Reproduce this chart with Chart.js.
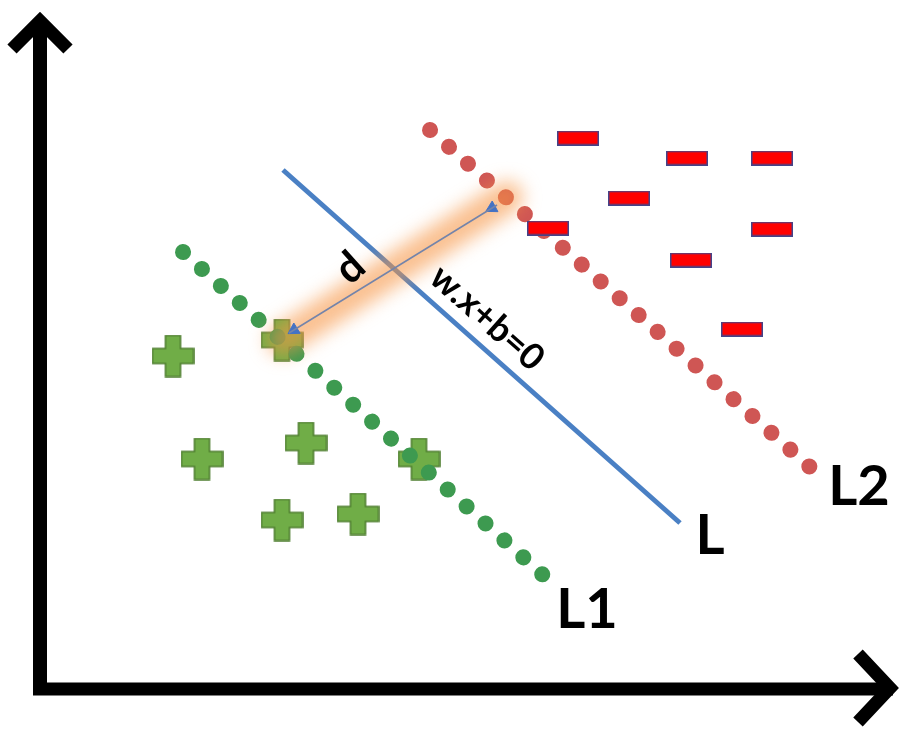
<!DOCTYPE html>
<html>
<head>
<meta charset="utf-8">
<title>SVM margin</title>
<script src="https://cdn.jsdelivr.net/npm/chart.js@4.4.1/dist/chart.umd.min.js"></script>
<style>
  html, body { margin: 0; padding: 0; background: #fff; }
  canvas { display: block; }
</style>
</head>
<body>
<canvas id="myChart" width="905" height="744"></canvas>
<script>
// class +1 samples (green pluses)
const plusX = [133, 162, 242, 266, 242, 318, 379];
const plusY = [333, 230, 349, 246, 169, 175, 230];

// class -1 samples (red minuses)
const minusX = [538, 647, 732, 589, 508, 732, 651, 702];
const minusY = [551, 531, 531, 491, 461, 460, 429, 360];

// lines: L1 (support, green), L (decision boundary), L2 (support, red)
const lineL1X = [143, 503];
const lineL1Y = [437, 114];
const lineLX = [243, 640];
const lineLY = [519, 166];
const lineL2X = [390, 770];
const lineL2Y = [559, 222];

// margin arrow d
const marginX = [249, 457];
const marginY = [356, 484];

// axes
const axisX = [-7, 853];
const axisY = [-6, 669];

const pts = (xs, ys) => xs.map((v, i) => ({ x: v, y: ys[i] }));

function makePlus(size, arm, fill, stroke) {
    const c = document.createElement('canvas');
    c.width = size; c.height = size;
    const g = c.getContext('2d');
    const a = (size - arm) / 2, b = a + arm, e = size - 1, s = 1;
    g.beginPath();
    g.moveTo(a, s); g.lineTo(b, s); g.lineTo(b, a); g.lineTo(e, a);
    g.lineTo(e, b); g.lineTo(b, b); g.lineTo(b, e); g.lineTo(a, e);
    g.lineTo(a, b); g.lineTo(s, b); g.lineTo(s, a); g.lineTo(a, a);
    g.closePath();
    g.fillStyle = fill; g.fill();
    g.lineWidth = 1.6; g.strokeStyle = stroke; g.stroke();
    return c;
}

function makeBar(w, h, fill, stroke) {
    const c = document.createElement('canvas');
    c.width = w; c.height = h;
    const g = c.getContext('2d');
    g.fillStyle = fill;
    g.fillRect(0, 0, w, h);
    g.lineWidth = 1.5; g.strokeStyle = stroke;
    g.strokeRect(0.75, 0.75, w - 1.5, h - 1.5);
    return c;
}

const plusImg = makePlus(43, 15, '#70ad47', '#4f7f30');
const minusImg = makeBar(42, 15, '#ff0000', '#44448a');

// arrowhead directions
const ang = Math.atan2(-(marginY[1] - marginY[0]), marginX[1] - marginX[0]) * 180 / Math.PI;

const annotations = [
    { text: 'L', x: 670, y: 153, font: 'bold 56px Lato', rot: 0 },
    { text: 'L1', x: 547, y: 79, font: 'bold 56px Lato', rot: 0 },
    { text: 'L2', x: 819, y: 202, font: 'bold 56px Lato', rot: 0 },
    { text: 'd', x: 310, y: 421, font: 'bold 42px Lato', rot: -42 },
    { text: 'w.x+b=0', x: 447, y: 371, font: 'bold 36px Lato', rot: 41.6 }
];

const textPlugin = {
    id: 'textPlugin',
    beforeDatasetDraw(chart, args) {
        if (chart.data.datasets[args.index].glow) {
            chart.ctx.save();
            chart.ctx.filter = 'blur(9px)';
        }
    },
    afterDatasetDraw(chart, args) {
        if (chart.data.datasets[args.index].glow) chart.ctx.restore();
    },
    afterDatasetsDraw(chart) {
        const { ctx, scales: { x, y } } = chart;
        ctx.save();
        ctx.fillStyle = '#000';
        ctx.textAlign = 'center';
        ctx.textBaseline = 'middle';
        annotations.forEach(a => {
            ctx.save();
            ctx.translate(x.getPixelForValue(a.x), y.getPixelForValue(a.y));
            ctx.rotate(a.rot * Math.PI / 180);
            ctx.font = a.font;
            ctx.fillText(a.text, 0, 0);
            ctx.restore();
        });
        ctx.restore();
    }
};

const lineSet = (data, color, width, order, extra) => Object.assign({
    data, showLine: true, borderColor: color, borderWidth: width,
    pointRadius: 0, fill: false, order, tension: 0
}, extra || {});

const ctx = document.getElementById('myChart');
new Chart(ctx, {
    type: 'scatter',
    data: {
        datasets: [
            // axes with arrow heads
            lineSet(pts([0, 0], axisY), '#000', 14, 1, { borderCapStyle: 'butt' }),
            lineSet(pts(axisX, [0, 0]), '#000', 13, 1, { borderCapStyle: 'butt' }),
            lineSet(pts([-28, 0, 28], [640, 668, 640]), '#000', 13, 1, { borderJoinStyle: 'miter' }),
            lineSet(pts([818, 850, 818], [35, 1, -33]), '#000', 13, 1, { borderJoinStyle: 'miter' }),
            // margin arrow
            lineSet(pts(marginX, marginY), '#7484aa', 1.5, 2),
            {
                data: pts([254, 452], [359, 481]),
                showLine: false, order: 2,
                pointStyle: 'triangle', pointRadius: 7,
                pointRotation: [ang + 270, 90 - ang],
                backgroundColor: '#4472c4', borderColor: '#4472c4'
            },
            // orange glow around d
            lineSet(pts([243, 467], [349, 492]), 'rgba(247,150,70,0.6)', 32, 3, { borderCapStyle: 'round', glow: true }),
            // decision boundary L
            lineSet(pts(lineLX, lineLY), '#4a80c4', 5, 4, { borderCapStyle: 'butt' }),
            // minus samples
            { data: pts(minusX, minusY), pointStyle: minusImg, order: 5 },
            // dotted margin lines
            lineSet(pts(lineL2X, lineL2Y), '#cf5654', 16, 6, { borderDash: [0.1, 25.25], borderCapStyle: 'round' }),
            lineSet(pts(lineL1X, lineL1Y), '#3d9a50', 16, 7, { borderDash: [0.1, 25.3], borderCapStyle: 'round' }),
            // plus samples
            { data: pts(plusX, plusY), pointStyle: plusImg, order: 8 }
        ]
    },
    options: {
        responsive: false,
        animation: false,
        events: [],
        layout: { padding: 0, autoPadding: false },
        plugins: { legend: { display: false }, tooltip: { enabled: false } },
        scales: {
            x: { type: 'linear', min: -40, max: 865, display: false },
            y: { type: 'linear', min: -55, max: 689, display: false }
        }
    },
    plugins: [textPlugin]
});
</script>
</body>
</html>
